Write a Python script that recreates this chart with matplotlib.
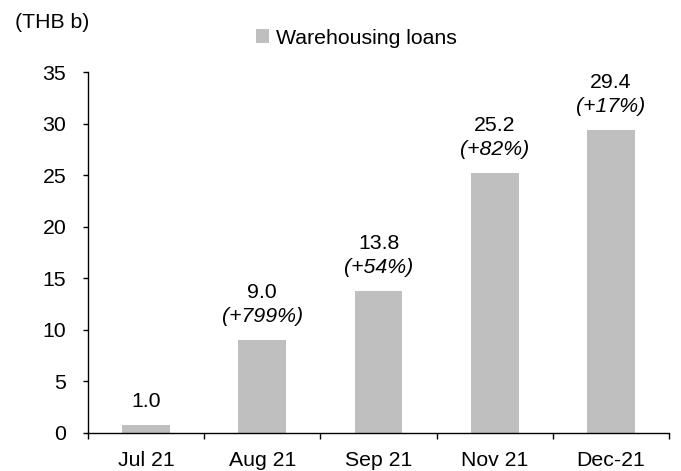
import matplotlib
matplotlib.use("Agg")
import matplotlib.pyplot as plt
from matplotlib.ticker import FixedLocator

plt.rcParams['font.family'] = ['Liberation Sans', 'DejaVu Sans']

categories = ["Jul 21", "Aug 21", "Sep 21", "Nov 21", "Dec-21"]
values = [0.8, 9.0, 13.8, 25.2, 29.4]
value_labels = ["1.0", "9.0", "13.8", "25.2", "29.4"]
growth_labels = [None, "(+799%)", "(+54%)", "(+82%)", "(+17%)"]
yticks = [0, 5, 10, 15, 20, 25, 30, 35]

FS = 15.3
BAR_COLOR = "#BFBFBF"

fig = plt.figure(figsize=(6.81, 4.71), dpi=100)
ax = fig.add_axes([88/681, 38/471, (669-88)/681, (433-72)/471])

x = list(range(len(categories)))
ax.bar(x, values, width=0.41, color=BAR_COLOR, label="Warehousing loans", zorder=2)

for xi, v, vl, gl in zip(x, values, value_labels, growth_labels):
    if gl is None:
        ax.annotate(vl, (xi, v), xytext=(0, 17), textcoords="offset points",
                    ha="center", va="center", fontsize=FS)
    else:
        ax.annotate(gl, (xi, v), xytext=(0, 17), textcoords="offset points",
                    ha="center", va="center", fontsize=FS, style="italic")
        ax.annotate(vl, (xi, v), xytext=(0, 34), textcoords="offset points",
                    ha="center", va="center", fontsize=FS)

ax.set_xlim(-0.5, len(categories) - 0.5)
ax.set_ylim(0, 35)
ax.set_yticks(yticks)
ax.set_yticklabels([str(t) for t in yticks], fontsize=FS)
ax.set_xticks(x)
ax.set_xticklabels(categories, fontsize=FS)
ax.xaxis.set_minor_locator(FixedLocator([i - 0.5 for i in range(len(categories) + 1)]))
ax.tick_params(axis="x", which="major", length=0, pad=13)
ax.tick_params(axis="x", which="minor", length=4.5, width=1, direction="out")
ax.tick_params(axis="y", which="major", length=3.6, width=1, direction="out", pad=12)

for s in ["top", "right"]:
    ax.spines[s].set_visible(False)
for s in ["left", "bottom"]:
    ax.spines[s].set_linewidth(1)
    ax.spines[s].set_color("black")

fig.text(15/681, 1 - 23/471, "(THB b)", fontsize=FS, ha="left", va="center")

handles, labels = ax.get_legend_handles_labels()
fig.legend(handles, labels, loc="center left", bbox_to_anchor=(256/681, 1 - 38/471),
           frameon=False, fontsize=FS, handlelength=0.6, handleheight=0.6,
           handletextpad=0.35, borderpad=0, borderaxespad=0)

fig.savefig("out.png", dpi=100)
